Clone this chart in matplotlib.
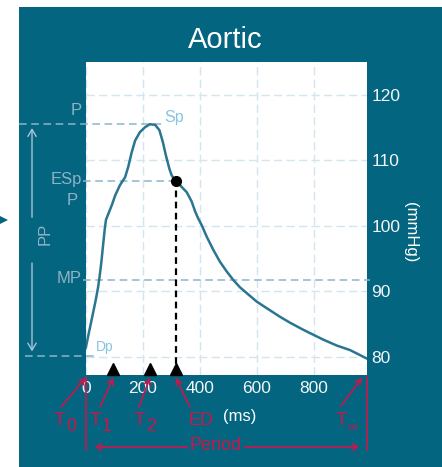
import matplotlib.pyplot as plt
from matplotlib.patches import Rectangle, Polygon, FancyArrowPatch
from matplotlib.lines import Line2D
from matplotlib.transforms import ScaledTranslation

plt.rcParams['font.family'] = ['Liberation Sans', 'DejaVu Sans']

# aortic pressure waveform
time_ms = [0, 10, 22, 34, 43, 48, 55, 61, 67, 71, 80, 92, 103, 120, 138, 149,
           161, 173, 190, 208, 225, 243, 258, 270, 281, 293, 301, 313, 330,
           354, 371, 383, 394, 406, 424, 447, 470, 494, 517, 540, 564, 599,
           634, 680, 715, 762, 797, 832, 879, 926, 985]
pressure = [81.3, 83.4, 85.9, 88.4, 90.5, 92.0, 94.5, 97.1, 99.6, 100.9,
            101.9, 103.2, 104.6, 106.2, 107.4, 109.0, 111.2, 113.0, 114.3,
            115.05, 115.5, 115.4, 114.6, 112.8, 110.7, 108.7, 107.7, 106.9,
            106.2, 105.1, 103.7, 102.2, 101.1, 100.1, 98.3, 96.3, 94.5, 93.0,
            91.7, 90.6, 89.7, 88.4, 87.4, 86.1, 85.2, 84.1, 83.35, 82.6, 81.7,
            81.0, 79.7]

# characteristic points
systolic = 115.5      # Sp
peak_time = 228
end_systolic = 106.9  # ESP
ed_time = 315         # ED
mean_pressure = 91.75 # MP
diastolic = 80.1      # Dp
marker_times = [97, 225, 315]   # T1, T2, ED
period_end = 968

x_ticks = [0, 200, 400, 600, 800]
y_ticks = [80, 90, 100, 110, 120]

teal = '#03657f'
red = '#c8174c'
ref_col = '#8db5c9'
lab_col = '#8fb2c4'
sky = '#86c4e2'
W, H = 442, 467


def fx(x):
    return x / W


def fy(y):
    return 1 - y / H


fig = plt.figure(figsize=(W / 100, H / 100), dpi=100)
fig.add_artist(Rectangle((fx(19), 0), fx(W - 19), 1 - 7 / H,
                         transform=fig.transFigure, facecolor=teal,
                         edgecolor='none', zorder=-10))
fig.add_artist(Polygon([[0, fy(216)], [fx(8), fy(220)], [0, fy(224)]],
                       closed=True, transform=fig.transFigure,
                       facecolor=teal, edgecolor='none'))

ax = fig.add_axes([fx(85.7), fy(375), (367 - 85.7) / W, (375 - 62) / H])
ax.set_facecolor('white')
ax.set_xlim(0, 985)
ax.set_ylim(77.2, 125)
for s in ax.spines.values():
    s.set_visible(False)
ax.set_xticks(x_ticks)
ax.set_yticks(y_ticks)
ax.yaxis.tick_right()
ax.tick_params(length=0, colors='#f2f6f8', labelsize=12.5)
ax.tick_params(axis='x', pad=4)
ax.tick_params(axis='y', pad=3)
ax.grid(color='#d3e5ef', linestyle=(0, (6, 3)), linewidth=1)
ax.set_axisbelow(True)

# waveform
ax.plot(time_ms, pressure, color='#2a7590', lw=1.8, zorder=3,
        solid_joinstyle='round', solid_capstyle='round')

# reference levels
dash = (0, (5, 3))
ax.plot([-234, peak_time + 44], [systolic] * 2, color=ref_col, ls=dash, lw=1.1, clip_on=False)
ax.plot([-9, ed_time], [end_systolic] * 2, color=ref_col, ls=dash, lw=1.1, clip_on=False)
ax.plot([-9, 995], [mean_pressure] * 2, color=ref_col, ls=dash, lw=1.1, clip_on=False)
ax.plot([-212, 33], [diastolic] * 2, color=ref_col, ls=dash, lw=1.1, clip_on=False)

# end of systole
ax.plot([ed_time, ed_time], [77.2, end_systolic], color='black', ls=(0, (3, 2)), lw=1.6, zorder=4)
ax.plot([ed_time], [end_systolic], 'o', color='black', ms=7, zorder=5)

# time markers on the axis
tri_tr = ax.get_xaxis_transform() + ScaledTranslation(0, 4 / 72, fig.dpi_scale_trans)
ax.plot(marker_times, [0] * len(marker_times), '^', color='black', ms=8,
        transform=tri_tr, clip_on=False, zorder=6)

# level labels
ax.text(-13, 117.6, 'P', ha='right', va='center', color=lab_col, fontsize=12)
ax.text(-13, 107.0, 'ESp', ha='right', va='center', color=lab_col, fontsize=12)
ax.text(-48, 103.8, 'P', ha='center', va='center', color=lab_col, fontsize=12)
ax.text(-13, 91.9, 'MP', ha='right', va='center', color=lab_col, fontsize=12)
ax.text(peak_time + 46, 116.6, 'Sp', ha='left', va='center', color=sky, fontsize=11.5)
ax.text(36, 81.4, 'Dp', ha='left', va='center', color=sky, fontsize=10)

# pulse pressure arrows
arr = dict(arrowstyle='->,head_length=0.5,head_width=0.3', color='#a9c5d3', lw=1,
           shrinkA=0, shrinkB=0)
ax.annotate('', xy=(-188, 114.9), xytext=(-188, 101.3), arrowprops=arr, annotation_clip=False)
ax.annotate('', xy=(-188, 80.8), xytext=(-188, 94.3), arrowprops=arr, annotation_clip=False)
ax.text(-143, 98.7, 'PP', rotation=90, ha='center', va='center', color=lab_col, fontsize=12)

# titles and axis units
fig.text(fx(225), fy(40), 'Aortic', ha='center', va='center', color='white', fontsize=21)
fig.text(fx(410), fy(232), '(mmHg)', rotation=-90, ha='center', va='center',
         color='white', fontsize=12)
fig.text(fx(240), fy(416), '(ms)', ha='center', va='center', color='white', fontsize=12)

# red timing annotations
rarr = dict(arrowstyle='->,head_length=0.4,head_width=0.2', color=red, lw=1.2,
            shrinkA=0, shrinkB=0)
tips = [0, marker_times[0], marker_times[1], marker_times[2], period_end]
tails = [(61, 407), (100, 407), (139, 407), (190, 407), (341, 406)]
for t, tail in zip(tips, tails):
    ax.annotate('', xy=(t, -0.008), xycoords=('data', 'axes fraction'),
                xytext=(fx(tail[0]), fy(tail[1])), textcoords='figure fraction',
                arrowprops=rarr, annotation_clip=False)

# T with subscript drawn as two texts (subscript nearly full size)
subs = [('0', 66), ('1', 102), ('2', 146), ('\u221e', 347)]
for sub, xs in subs:
    fig.text(fx(xs), fy(425), 'T', ha='right', va='baseline', color=red, fontsize=14)
    fig.text(fx(xs), fy(431), sub, ha='left', va='baseline', color=red,
             fontsize=13 if sub != '\u221e' else 10)
fig.text(fx(201), fy(425), 'ED', ha='center', va='baseline', color=red, fontsize=13)

fig.add_artist(Line2D([fx(86), fx(86)], [fy(377), fy(450)], transform=fig.transFigure, color=red, lw=1.2))
fig.add_artist(Line2D([fx(367), fx(367)], [fy(377), fy(450)], transform=fig.transFigure, color=red, lw=1.2))
fig.add_artist(FancyArrowPatch((fx(92), fy(447)), (fx(362), fy(447)),
                               transform=fig.transFigure,
                               arrowstyle='<->,head_length=4,head_width=2.5',
                               color=red, lw=1.2, zorder=2))
fig.text(fx(216), fy(445), 'Period', ha='center', va='center', color=red, fontsize=13,
         bbox=dict(facecolor=teal, edgecolor='none', pad=1.5), zorder=4)

fig.savefig('out.png', dpi=100, facecolor='white')
